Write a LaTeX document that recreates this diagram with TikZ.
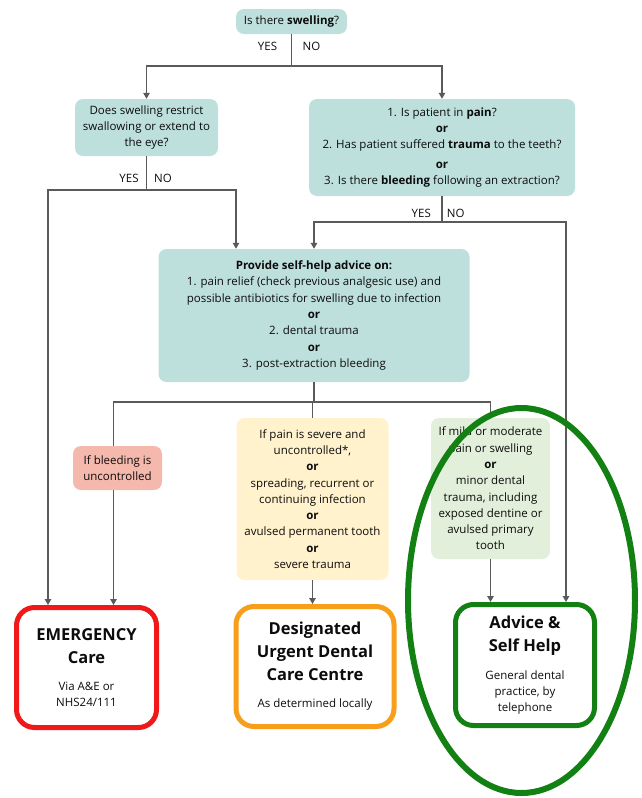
\documentclass[tikz,border=0pt]{standalone}
\usepackage{fontspec}
\setmainfont{Open Sans}
\usetikzlibrary{arrows.meta}
\definecolor{tealbg}{RGB}{190,224,221}
\definecolor{pinkbg}{RGB}{245,184,172}
\definecolor{yellowbg}{RGB}{255,242,204}
\definecolor{greenbg}{RGB}{226,239,218}
\definecolor{linegray}{RGB}{90,90,90}
\definecolor{emred}{RGB}{240,24,24}
\definecolor{udorange}{RGB}{247,158,27}
\definecolor{adgreen}{RGB}{18,128,18}
\definecolor{inktext}{RGB}{12,12,12}
\newcommand{\subtxt}{\fontsize{11.5}{16}\selectfont\mdseries}

\begin{document}
\begin{tikzpicture}[x=1pt,y=-1pt,
  every node/.style={text=inktext,font=\fontsize{11.5}{16.3}\selectfont,align=center},
  qbox/.style={fill=tealbg,rounded corners=8pt,inner sep=0pt},
  condbox/.style={rounded corners=8pt,inner sep=0pt},
  destbox/.style={draw,line width=5pt,rounded corners=18pt,fill=white,inner sep=0pt,
    font=\fontsize{16.5}{23}\selectfont\bfseries},
  yn/.style={inner sep=0pt},
  conn/.style={draw=linegray,line width=1.3pt},
  arr/.style={conn,-{Triangle[length=6pt,width=6.5pt]}}]
  \useasboundingbox (0,0) rectangle (641,798);
  \path (291.5,21.5) node[qbox,minimum width=111pt,minimum height=25pt] (swell) {Is there \textbf{swelling}?}
  (146.5,127.5) node[qbox,minimum width=143pt,minimum height=57pt] (eye) {Does swelling restrict\\swallowing or extend to\\the eye?}
  (442,147.5) node[qbox,minimum width=266pt,minimum height=97pt] (pain) {1. Is patient in \textbf{pain}?\\\textbf{or}\\2. Has patient suffered \textbf{trauma} to the teeth?\\[3pt]\textbf{or}\\3. Is there \textbf{bleeding} following an extraction?}
  (314,315.5) node[qbox,minimum width=311pt,minimum height=133pt] (selfhelp) {\textbf{Provide self-help advice on:}\\1. pain relief (check previous analgesic use) and\\possible antibiotics for swelling due to infection\\\textbf{or}\\2. dental trauma\\\textbf{or}\\3. post-extraction bleeding}
  (117.5,468) node[condbox,fill=pinkbg,minimum width=89pt,minimum height=44pt] (bleed) {If bleeding is\\uncontrolled}
  (312.5,499) node[condbox,fill=yellowbg,minimum width=152pt,minimum height=162pt] (severe) {If pain is severe and\\uncontrolled*,\\\textbf{or}\\spreading, recurrent or\\continuing infection\\\textbf{or}\\avulsed permanent tooth\\\textbf{or}\\severe trauma}
  (490.5,488.5) node[condbox,fill=greenbg,minimum width=119pt,minimum height=141pt] (mild) {If mild or moderate\\pain or swelling\\\textbf{or}\\minor dental\\trauma, including\\exposed dentine or\\avulsed primary\\tooth}
  (86.5,667.5) node[destbox,draw=emred,minimum width=140pt,minimum height=120pt] (emerg) {EMERGENCY\\Care\\[3.5pt]\subtxt Via A\&E or\\[-7pt]\subtxt NHS24/111}
  (315,666.5) node[destbox,draw=udorange,minimum width=158pt,minimum height=120pt] (urgent) {Designated\\Urgent Dental\\Care Centre\\[4pt]\subtxt As determined locally}
  (525,665) node[destbox,draw=adgreen,minimum width=139pt,minimum height=121pt] (selfcare) {Advice \&\\Self Help\\[5pt]\subtxt General dental\\[-7pt]\subtxt practice, by\\[-7pt]\subtxt telephone};
  \path (267.5,46.7) node[yn] (yes1) {YES} (311.5,46.7) node[yn] (no1) {NO}
  (129,178.3) node[yn] (yes2) {YES} (163,178.3) node[yn] (no2) {NO}
  (421.3,213.3) node[yn] (yes3) {YES} (455.7,213.3) node[yn] (no3) {NO};
  \coordinate (j1) at (291.5,66);
  \coordinate (j2) at (146.5,190);
  \coordinate (j3) at (442,222);
  \coordinate (j4) at (314,402);
  \draw[conn] (swell) -- (j1);
  \draw[arr] (j1) -| (eye);
  \draw[arr] (j1) -| (pain);
  \draw[conn] (eye) -- (j2);
  \draw[arr] (j2) -| ([xshift=-38.5pt]emerg.north);
  \draw[arr] (j2) -| ([xshift=-78pt]selfhelp.north);
  \draw[conn] (pain) -- (j3);
  \draw[arr] (j3) -| (selfhelp);
  \draw[arr] (j3) -| ([xshift=41pt]selfcare.north);
  \draw[conn] (selfhelp) -- (j4);
  \draw[conn] (j4) -| ([xshift=-4pt]bleed.north);
  \draw[conn] (j4) -| (severe);
  \draw[conn] (j4) -| (mild);
  \draw[arr] ([xshift=-4pt]bleed.south) -- ([xshift=-4pt]bleed.south |- emerg.north);
  \draw[arr] (severe) -- (severe |- urgent.north);
  \draw[arr] (mild) -- (mild |- selfcare.north);
  \draw[adgreen,line width=6pt] (521.5,600.5) ellipse [x radius=113.5, y radius=192.5];
\end{tikzpicture}
\end{document}
